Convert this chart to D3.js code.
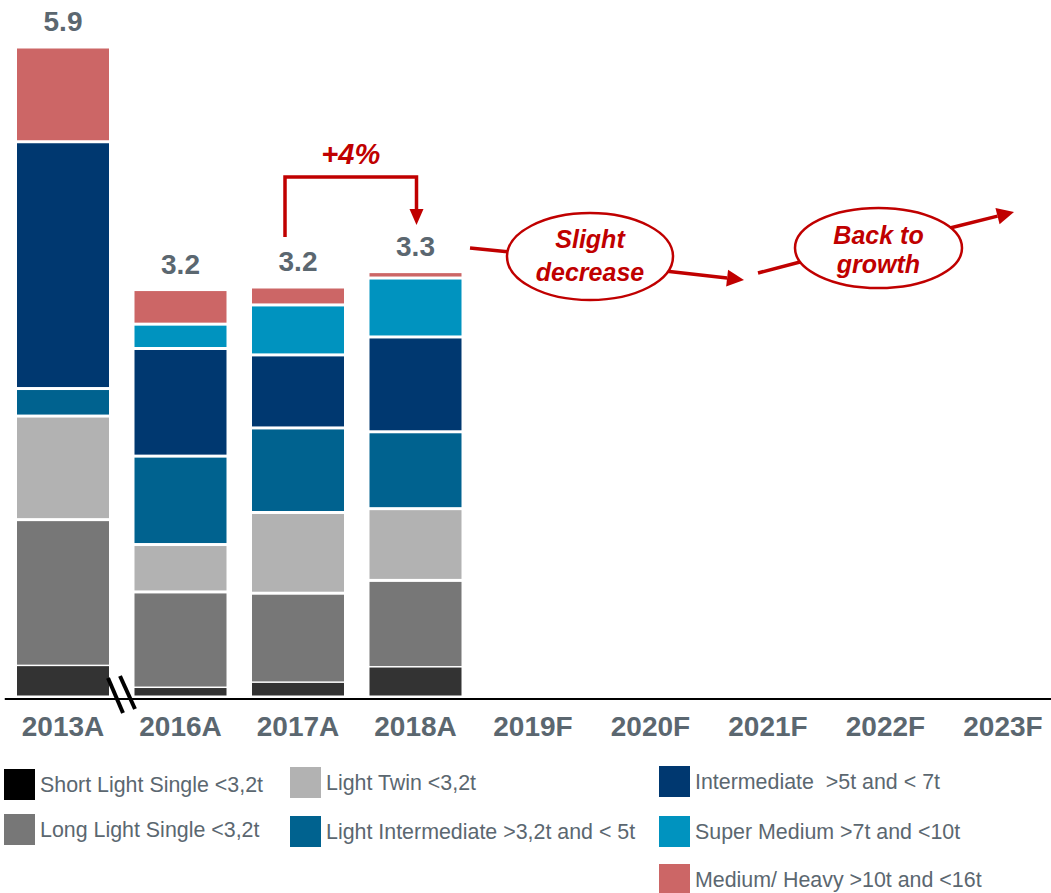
<!DOCTYPE html>
<html>
<head>
<meta charset="utf-8">
<script src="https://cdn.jsdelivr.net/npm/d3@7"></script>
<style>
  body { margin: 0; background: #fff; }
  text { font-family: 'Liberation Sans', Arial, sans-serif; }
</style>
</head>
<body>
<div id="chart"></div>
<script>
// categories on the x axis (2013A is drawn on a broken axis)
let years = ['2013A', '2016A', '2017A', '2018A', '2019F', '2020F', '2021F', '2022F', '2023F']
let actualYears = ['2013A', '2016A', '2017A', '2018A']
let brokenYear = '2013A'

let categories = [
  'Short Light Single <3,2t',
  'Long Light Single <3,2t',
  'Light Twin <3,2t',
  'Light Intermediate >3,2t and < 5t',
  'Intermediate  >5t and < 7t',
  'Super Medium >7t and <10t',
  'Medium/ Heavy >10t and <16t'
]

let shortLight = [0.28, 0.07, 0.11, 0.23]
let longLight = [1.33, 0.75, 0.70, 0.68]
let lightTwin = [0.94, 0.37, 0.63, 0.56]
let lightInter = [0.25, 0.69, 0.66, 0.60]
let intermediate = [2.24, 0.84, 0.57, 0.74]
let superMedium = [0, 0.19, 0.39, 0.46]
let mediumHeavy = [0.86, 0.27, 0.14, 0.05]
let totals = [5.9, 3.2, 3.2, 3.3]

let barColors = ['#333333', '#777777', '#b2b2b2', '#00628f', '#003870', '#0093bf', '#cc6666']
let legendColors = ['#000000', '#777777', '#b2b2b2', '#00628f', '#003870', '#0093bf', '#cc6666']

let series = [shortLight, longLight, lightTwin, lightInter, intermediate, superMedium, mediumHeavy]

let width = 1051
let height = 893
let baseline = 697
let red = '#c00000'
let grey = '#5b6770'

let svg = d3
  .select('#chart')
  .append('svg')
  .attr('width', width)
  .attr('height', height)

let x = d3
  .scaleBand()
  .domain(years)
  .range([4.25, 1061.75])
  .paddingInner(0.217)
  .paddingOuter(0.1085)

let y = d3.scaleLinear().domain([0, 3.2]).range([baseline, 287])
let yBreak = d3.scaleLinear().domain([0, 5.9]).range([baseline, 47])
let scaleFor = year => (year === brokenYear ? yBreak : y)

let table = actualYears.map((year, i) => {
  let row = { year: year }
  categories.forEach((c, j) => {
    row[c] = series[j][i]
  })
  return row
})

let stacked = d3.stack().keys(categories)(table)

// bars
let layers = svg
  .selectAll('.layer')
  .data(stacked)
  .enter()
  .append('g')
  .attr('class', 'layer')
  .attr('fill', (d, i) => barColors[i])

layers
  .selectAll('rect')
  .data(d => d)
  .enter()
  .append('rect')
  .attr('x', d => x(d.data.year))
  .attr('width', x.bandwidth())
  .attr('y', d => {
    let s = scaleFor(d.data.year)
    return s(d[1]) + (d[0] === 0 ? 0 : 1.5)
  })
  .attr('height', d => {
    let s = scaleFor(d.data.year)
    let h = s(d[0]) - s(d[1]) - (d[0] === 0 ? 1.5 : 3)
    return Math.max(0, h)
  })

// total labels
svg
  .selectAll('.total')
  .data(actualYears)
  .enter()
  .append('text')
  .attr('class', 'total')
  .attr('x', d => x(d) + x.bandwidth() / 2)
  .attr('y', (d, i) => scaleFor(d)(d3.sum(series, s => s[i])) - 16)
  .attr('text-anchor', 'middle')
  .attr('font-size', 28)
  .attr('font-weight', 'bold')
  .attr('fill', grey)
  .text((d, i) => totals[i].toFixed(1))

// axis
let axis = svg
  .append('g')
  .attr('transform', `translate(0,${baseline + 1.5})`)
  .call(d3.axisBottom(x).tickSize(0).tickSizeOuter(0).tickPadding(18))

axis.select('.domain').attr('stroke', '#000').attr('stroke-width', 2)
axis
  .selectAll('text')
  .attr('font-size', 28)
  .attr('font-weight', 'bold')
  .attr('fill', grey)
  .style('font-family', "'Liberation Sans', Arial, sans-serif")

// axis break marks
let bx = x('2013A') + x.bandwidth()
svg.append('line')
  .attr('x1', bx - 1).attr('y1', 678).attr('x2', bx + 14).attr('y2', 713)
  .attr('stroke', '#000').attr('stroke-width', 4)
svg.append('line')
  .attr('x1', bx + 11).attr('y1', 676).attr('x2', bx + 26).attr('y2', 709)
  .attr('stroke', '#000').attr('stroke-width', 4)

// arrow helper
function arrow(x1, y1, x2, y2, size) {
  let a = Math.atan2(y2 - y1, x2 - x1)
  let bxp = x2 - size * Math.cos(a)
  let byp = y2 - size * Math.sin(a)
  svg.append('line')
    .attr('x1', x1).attr('y1', y1).attr('x2', bxp).attr('y2', byp)
    .attr('stroke', red).attr('stroke-width', 3.5)
  let w = size * 0.5
  let pts = [
    [x2, y2],
    [bxp + w * Math.sin(a), byp - w * Math.cos(a)],
    [bxp - w * Math.sin(a), byp + w * Math.cos(a)]
  ]
  svg.append('polygon').attr('points', pts.map(p => p.join(',')).join(' ')).attr('fill', red)
}

// +4% bracket
let lx = x('2017A') + x.bandwidth() / 2 - 13
let rx = x('2018A') + x.bandwidth() / 2 + 1
svg.append('path')
  .attr('d', `M${lx},237V177H${rx}V211`)
  .attr('fill', 'none')
  .attr('stroke', red)
  .attr('stroke-width', 3.5)
svg.append('polygon')
  .attr('points', `${rx - 7},209 ${rx + 7},209 ${rx},225`)
  .attr('fill', red)
svg.append('text')
  .attr('x', (lx + rx) / 2)
  .attr('y', 164)
  .attr('text-anchor', 'middle')
  .attr('font-size', 29)
  .attr('font-weight', 'bold')
  .attr('font-style', 'italic')
  .attr('fill', red)
  .text('+4%')

// trend annotations
function bubble(cx, cy, rxx, ryy, lines, baselines) {
  svg.append('ellipse')
    .attr('cx', cx).attr('cy', cy).attr('rx', rxx).attr('ry', ryy)
    .attr('fill', '#fff').attr('stroke', red).attr('stroke-width', 2.5)
  lines.forEach((t, i) => {
    svg.append('text')
      .attr('x', cx).attr('y', baselines[i])
      .attr('text-anchor', 'middle')
      .attr('font-size', 25)
      .attr('font-weight', 'bold')
      .attr('font-style', 'italic')
      .attr('fill', red)
      .text(t)
  })
}

svg.append('line')
  .attr('x1', 470).attr('y1', 248).attr('x2', 510).attr('y2', 252)
  .attr('stroke', red).attr('stroke-width', 3.5)
arrow(665, 271, 744, 280, 17)
bubble(590, 256.5, 83, 43.5, ['Slight', 'decrease'], [248, 281])

svg.append('line')
  .attr('x1', 758).attr('y1', 273).attr('x2', 800).attr('y2', 262)
  .attr('stroke', red).attr('stroke-width', 3.5)
arrow(950, 228, 1014, 212, 17)
bubble(878.5, 248, 83.5, 40, ['Back to', 'growth'], [244, 273])

// legend
let legendPos = [
  [4, 769], [4, 814],
  [290, 767], [290, 816],
  [659, 766], [659, 816], [659, 864]
]

let legend = svg
  .selectAll('.legend-entry')
  .data(categories)
  .enter()
  .append('g')
  .attr('class', 'legend-entry')
  .attr('transform', (d, i) => `translate(${legendPos[i][0]},${legendPos[i][1]})`)

legend.append('rect')
  .attr('width', 31)
  .attr('height', 31)
  .attr('fill', (d, i) => legendColors[i])

legend.append('text')
  .attr('x', 36)
  .attr('y', 23)
  .attr('font-size', 21.4)
  .attr('fill', grey)
  .style('white-space', 'pre')
  .text(d => d)
</script>
</body>
</html>
